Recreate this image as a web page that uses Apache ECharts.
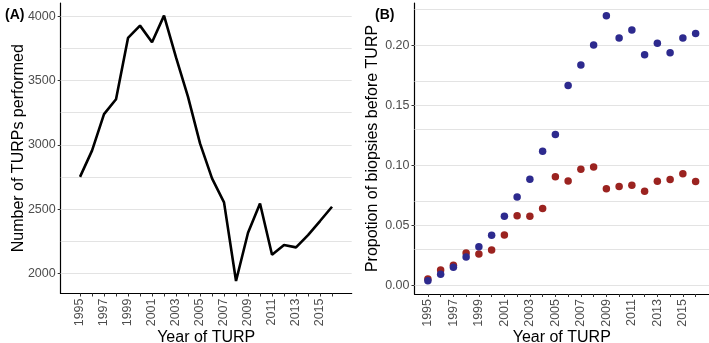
<!DOCTYPE html>
<html>
<head>
<meta charset="utf-8">
<script src="https://cdn.jsdelivr.net/npm/echarts@6/dist/echarts.min.js"></script>
<style>
  html, body { margin: 0; padding: 0; background: #fff; }
  #chart { width: 709px; height: 343px; }
</style>
</head>
<body>
<div id="chart"></div>
<script>
// years shared by both panels
let years = [1995,1996,1997,1998,1999,2000,2001,2002,2003,2004,2005,2006,2007,2008,2009,2010,2011,2012,2013,2014,2015,2016];
let yearLabels = [1995,1997,1999,2001,2003,2005,2007,2009,2011,2013,2015];

// panel A - number of TURPs
let turpCount = [2751,2955,3239,3355,3832,3928,3799,4006,3680,3373,3011,2739,2552,1940,2316,2544,2145,2220,2202,2298,2407,2518];
let countTicks = [2000,2500,3000,3500,4000];
let countGrid = [2000,2250,2500,2750,3000,3250,3500,3750,4000];

// panel B - proportion of biopsies before TURP
let propBlue = [0.0042,0.0095,0.0153,0.0239,0.0325,0.042,0.0578,0.0739,0.0887,0.112,0.1258,0.1667,0.1836,0.2003,0.2247,0.2062,0.2128,0.1922,0.2017,0.1939,0.2062,0.21];
let propRed = [0.0056,0.0131,0.017,0.0272,0.0264,0.0297,0.0422,0.0583,0.0578,0.0642,0.0906,0.0872,0.097,0.0989,0.0808,0.0825,0.0836,0.0786,0.087,0.0883,0.0931,0.0867];
let propTicks = [0,0.05,0.1,0.15,0.2];
let propGrid = [0,0.025,0.05,0.075,0.1,0.125,0.15,0.175,0.2,0.225];

let font = 'Liberation Sans, Arial, sans-serif';

let pair = (xs, ys) => xs.map((x, i) => [x, ys[i]]);

// gridlines go under the marks
let gridLines = (vals) => ({
    silent: true,
    symbol: 'none',
    z: 1,
    label: {show: false},
    lineStyle: {color: '#e3e3e3', width: 1, type: 'solid'},
    data: vals.map(v => ({yAxis: v}))
});

let xAxisOf = (idx, min, max) => ({
    type: 'value',
    gridIndex: idx,
    min: min,
    max: max,
    name: 'Year of TURP',
    nameLocation: 'middle',
    nameGap: 36,
    nameMoveOverlap: false,
    nameTextStyle: {fontFamily: font, fontSize: 16, color: '#000'},
    axisLine: {show: true, onZero: false, lineStyle: {color: '#000', width: 1.2}},
    axisTick: {show: true, length: 3, customValues: years, lineStyle: {color: '#333'}},
    axisLabel: {
        customValues: yearLabels,
        rotate: 90,
        margin: 5,
        fontFamily: font,
        fontSize: 12.5,
        color: '#4d4d4d',
        formatter: v => String(v)
    },
    splitLine: {show: false}
});

let yAxisOf = (idx, min, max, ticks, name, fmt, gap) => ({
    type: 'value',
    gridIndex: idx,
    min: min,
    max: max,
    name: name,
    nameLocation: 'middle',
    nameGap: gap,
    nameMoveOverlap: false,
    nameTextStyle: {fontFamily: font, fontSize: 16, color: '#000'},
    axisLine: {show: true, lineStyle: {color: '#000', width: 1.2}},
    axisTick: {show: true, length: 3, customValues: ticks, lineStyle: {color: '#333'}},
    axisLabel: {customValues: ticks, margin: 5, fontFamily: font, fontSize: 12.5, color: '#4d4d4d', formatter: fmt},
    splitLine: {show: false}
});

let chart = echarts.init(document.getElementById('chart'));

let option = {
    animation: false,
    backgroundColor: '#fff',
    title: [
        {text: '(A)', left: 0, top: 3, textStyle: {fontFamily: font, fontSize: 14, fontWeight: 'bold', color: '#000'}},
        {text: '(B)', left: 370, top: 3, textStyle: {fontFamily: font, fontSize: 14, fontWeight: 'bold', color: '#000'}}
    ],
    grid: [
        {left: 60.7, top: 3, width: 291, height: 290.5, outerBoundsMode: 'none', containLabel: false},
        {left: 414.5, top: 3, width: 294.5, height: 291, outerBoundsMode: 'none', containLabel: false}
    ],
    xAxis: [
        xAxisOf(0, 1993.39, 2017.64),
        xAxisOf(1, 1993.95, 2017.05)
    ],
    yAxis: [
        yAxisOf(0, 1843, 4104, countTicks, 'Number of TURPs performed', v => String(v), 34),
        yAxisOf(1, -0.0069, 0.2353, propTicks, 'Propotion of biopsies before TURP', v => v.toFixed(2), 34)
    ],
    series: [
        {
            type: 'line',
            xAxisIndex: 0,
            yAxisIndex: 0,
            z: 3,
            data: pair(years, turpCount),
            showSymbol: false,
            lineStyle: {color: '#000', width: 2.6},
            markLine: gridLines(countGrid)
        },
        {
            type: 'scatter',
            xAxisIndex: 1,
            yAxisIndex: 1,
            z: 3,
            data: pair(years, propRed),
            symbolSize: 7.5,
            itemStyle: {color: '#9b2320', opacity: 1},
            markLine: gridLines(propGrid)
        },
        {
            type: 'scatter',
            xAxisIndex: 1,
            yAxisIndex: 1,
            z: 4,
            data: pair(years, propBlue),
            symbolSize: 7.5,
            itemStyle: {color: '#2d2a8e', opacity: 1}
        }
    ]
};

chart.setOption(option);
</script>
</body>
</html>
